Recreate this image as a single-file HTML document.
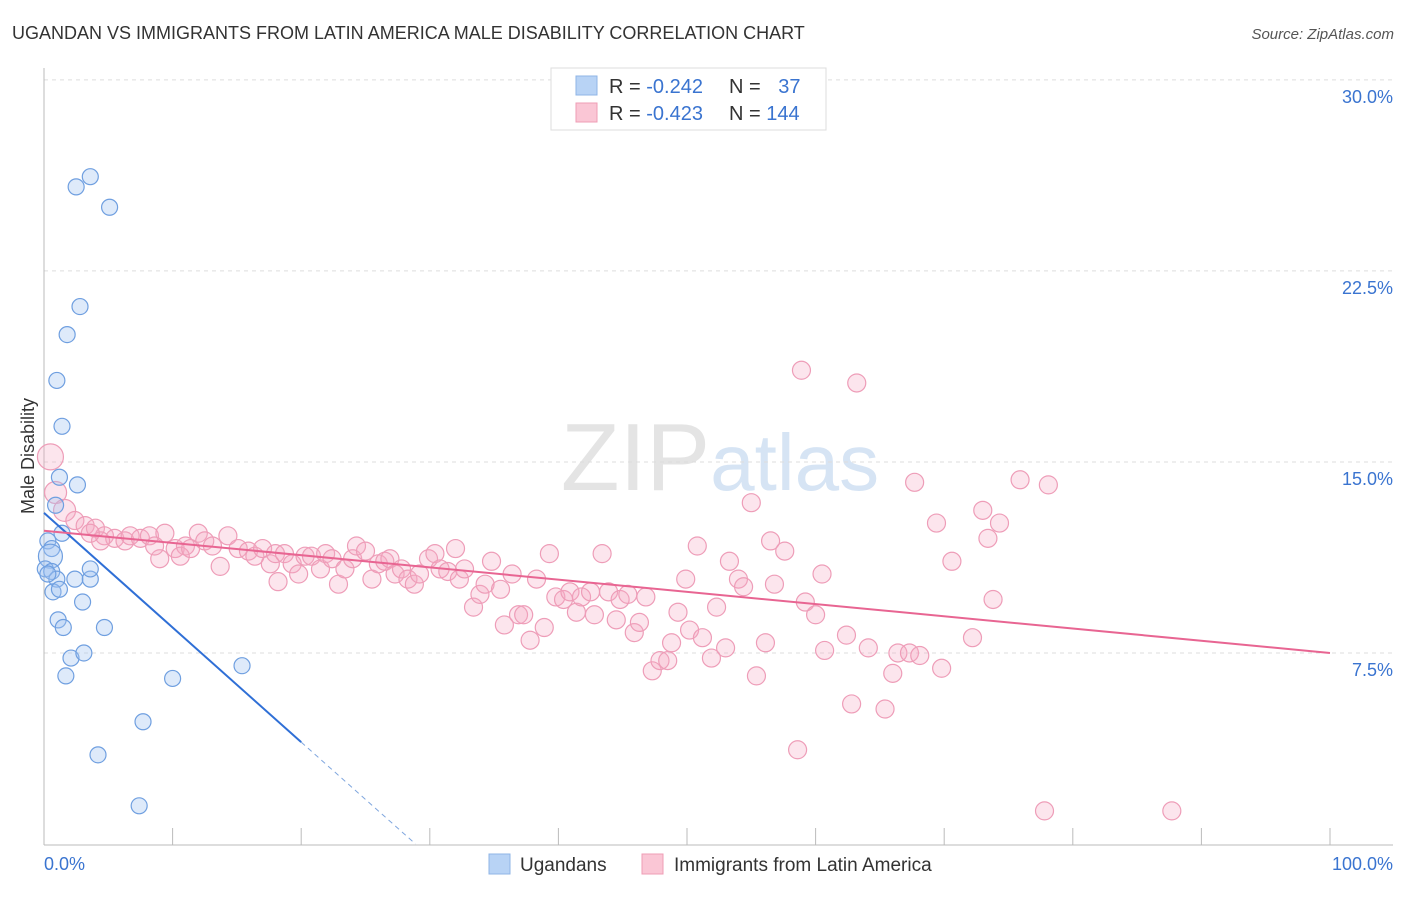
<!DOCTYPE html>
<html><head><meta charset="utf-8"><style>
body{margin:0;background:#fff;font-family:"Liberation Sans",sans-serif;}
svg text{font-family:"Liberation Sans",sans-serif;}
</style></head><body>
<svg id="chart" width="1406" height="892" viewBox="0 0 1406 892">
<text x="12" y="39" font-size="18" fill="#333">UGANDAN VS IMMIGRANTS FROM LATIN AMERICA MALE DISABILITY CORRELATION CHART</text>
<text x="1394" y="39" font-size="15" fill="#555" text-anchor="end" font-style="italic">Source: ZipAtlas.com</text>
<text x="720" y="490" font-size="96" fill="#e4e4e4" text-anchor="middle" font-family="Liberation Serif">ZIP<tspan fill="#d6e4f4" font-family="Liberation Sans" font-size="80">atlas</tspan></text>
<g id="grid"></g><g id="axes"></g><g id="pink"></g><g id="blue"></g><g id="lines"></g>
<text transform="translate(34,456) rotate(-90)" font-size="18" fill="#333" text-anchor="middle">Male Disability</text>
<g>
<rect x="551" y="68" width="275" height="62" fill="#fff" stroke="#ddd"/>
<rect x="576" y="76" width="21" height="19" fill="#b8d3f5" stroke="#8fb5e6"/>
<rect x="576" y="103" width="21" height="19" fill="#fac6d5" stroke="#ef9db5"/>
<text x="609" y="93" font-size="20" fill="#333">R = <tspan fill="#3a74d0">-0.242</tspan></text>
<text x="729" y="93" font-size="20" fill="#333">N = <tspan fill="#3a74d0" dx="12">37</tspan></text>
<text x="609" y="120" font-size="20" fill="#333">R = <tspan fill="#3a74d0">-0.423</tspan></text>
<text x="729" y="120" font-size="20" fill="#333">N = <tspan fill="#3a74d0">144</tspan></text>
</g>
<g>
<rect x="489" y="854" width="21" height="20" fill="#b8d3f5" stroke="#8fb5e6"/>
<text x="520" y="871" font-size="19" fill="#333">Ugandans</text>
<rect x="642" y="854" width="21" height="20" fill="#fac6d5" stroke="#ef9db5"/>
<text x="674" y="871" font-size="19" fill="#333">Immigrants from Latin America</text>
</g>
</svg>
<script>
const yTicks=[7.5,15,22.5,30];
const yTickLabels=["7.5%","15.0%","22.5%","30.0%"];
const xTickLabels=["0.0%","100.0%"];
const blueX=[2.5,3.6,5.1,2.8,1.8,1.0,1.4,1.2,2.6,0.9,1.4,0.3,0.6,0.5,0.1,0.6,1.0,2.4,3.6,3.6,0.7,1.2,3.0,1.1,1.5,4.7,2.1,3.1,1.7,15.4,10.0,7.7,4.2,7.4,0.3];
const blueY=[25.8,26.2,25.0,21.1,20.0,18.2,16.4,14.4,14.1,13.3,12.2,11.9,11.6,11.3,10.8,10.7,10.4,10.4,10.4,10.8,9.9,10.0,9.5,8.8,8.5,8.5,7.3,7.5,6.6,7.0,6.5,4.8,3.5,1.5,10.6];
const pinkX=[0.5,0.9,1.6,2.4,3.2,4.0,4.7,5.5,6.3,4.4,3.6,6.7,7.5,8.2,9.4,9.0,8.6,10.2,11.0,10.6,11.4,12.0,12.5,13.1,13.7,14.3,15.1,15.9,16.4,17.0,17.6,18.2,18.0,18.7,19.3,19.8,20.3,20.8,21.5,21.9,22.4,22.9,23.4,24.0,24.3,25.0,25.5,26.0,26.5,26.9,27.3,27.8,28.3,28.8,29.2,29.9,30.4,30.8,31.4,32.0,32.3,32.7,33.4,33.9,34.3,34.8,35.5,35.8,36.4,36.9,37.3,37.8,38.3,38.9,39.3,39.8,40.4,40.9,41.4,41.8,42.5,42.8,43.4,43.9,44.5,44.8,45.4,45.9,46.3,46.8,47.3,47.9,48.5,48.8,49.3,49.9,50.2,50.8,51.2,51.9,52.3,53.0,53.3,54.0,54.4,55.0,55.4,56.1,56.5,56.8,57.6,58.6,58.9,59.2,60.0,60.5,60.7,62.4,62.8,63.2,64.1,65.4,66.0,66.4,67.3,67.7,68.1,69.8,70.6,69.4,72.2,73.0,73.4,73.8,74.3,75.9,77.8,78.1,87.7];
const pinkY=[15.2,13.8,13.1,12.7,12.5,12.4,12.1,12.0,11.9,11.9,12.2,12.1,12.0,12.1,12.2,11.2,11.7,11.6,11.7,11.3,11.6,12.2,11.9,11.7,10.9,12.1,11.6,11.5,11.3,11.6,11.0,10.3,11.4,11.4,11.0,10.6,11.3,11.3,10.8,11.4,11.2,10.2,10.8,11.2,11.7,11.5,10.4,11.0,11.1,11.2,10.6,10.8,10.4,10.2,10.6,11.2,11.4,10.8,10.7,11.6,10.4,10.8,9.3,9.8,10.2,11.1,10.0,8.6,10.6,9.0,9.0,8.0,10.4,8.5,11.4,9.7,9.6,9.9,9.1,9.7,9.9,9.0,11.4,9.9,8.8,9.6,9.8,8.3,8.7,9.7,6.8,7.2,7.2,7.9,9.1,10.4,8.4,11.7,8.1,7.3,9.3,7.7,11.1,10.4,10.1,13.4,6.6,7.9,11.9,10.2,11.5,3.7,18.6,9.5,9.0,10.6,7.6,8.2,5.5,18.1,7.7,5.3,6.7,7.5,7.5,14.2,7.4,6.9,11.1,12.6,8.1,13.1,12.0,9.6,12.6,14.3,1.3,14.1,1.3];
const blueFit=[13.0,-0.45];
const pinkFit=[12.3,-0.048];
const X0=44,X1=1330,Y0=844,PY=25.47;
const sx=v=>X0+(X1-X0)*v/100, sy=v=>Y0-v*PY;
const NS="http://www.w3.org/2000/svg";
function mk(tag,attrs,parent){const e=document.createElementNS(NS,tag);for(const k in attrs)e.setAttribute(k,attrs[k]);document.getElementById(parent).appendChild(e);return e;}
yTicks.forEach((t,i)=>{
 const g=mk('line',{x1:44,x2:1393,y1:sy(t),y2:sy(t),stroke:'#ddd','stroke-dasharray':'4,4'},'grid');
 
 
 const tx=mk('text',{x:1393,y:sy(t)+23,'font-size':18,fill:'#3a74d0','text-anchor':'end'},'axes');
 tx.textContent=yTickLabels[i];
 
 
});
const ax=mk('line',{x1:44,x2:1393,y1:845,y2:845,stroke:'#bbb'},'axes');


const ay=mk('line',{x1:44,x2:44,y1:68,y2:845,stroke:'#bbb'},'axes');


for(let i=0;i<=10;i++){const t=mk('line',{x1:sx(i*10),x2:sx(i*10),y1:828,y2:845,stroke:'#bbb'},'axes');
 
 }
[[0,'start',44],[1,'end',1393]].forEach(([i,a,x])=>{const t=mk('text',{x:x,y:870,'font-size':18,fill:'#3a74d0','text-anchor':a},'axes');t.textContent=xTickLabels[i];
 
 });
pinkX.forEach((x,i)=>{const r=i<3?(i===0?13:11):9;
 const c=mk('circle',{cx:sx(x),cy:sy(pinkY[i]),r:r,fill:'rgba(246,170,195,0.3)',stroke:'#ee9db8','stroke-width':1.2},'pink');
 
 });
blueX.forEach((x,i)=>{const r=i===13?12:8;
 const c=mk('circle',{cx:sx(x),cy:sy(blueY[i]),r:r,fill:'rgba(160,195,240,0.35)',stroke:'#6f9fe0','stroke-width':1.2},'blue');
 
 });
const bf=x=>blueFit[0]+blueFit[1]*x;
const l1=mk('line',{x1:sx(0),y1:sy(bf(0)),x2:sx(20),y2:sy(bf(20)),stroke:'#2f6fd6','stroke-width':2},'lines');


const xz=-blueFit[0]/blueFit[1];
const l2=mk('line',{x1:sx(20),y1:sy(bf(20)),x2:sx(xz),y2:sy(0),stroke:'#7fa6de','stroke-width':1,'stroke-dasharray':'5,4'},'lines');


const pf=x=>pinkFit[0]+pinkFit[1]*x;
const l3=mk('line',{x1:sx(0),y1:sy(pf(0)),x2:sx(100),y2:sy(pf(100)),stroke:'#e86592','stroke-width':2},'lines');


</script>
</body></html>
